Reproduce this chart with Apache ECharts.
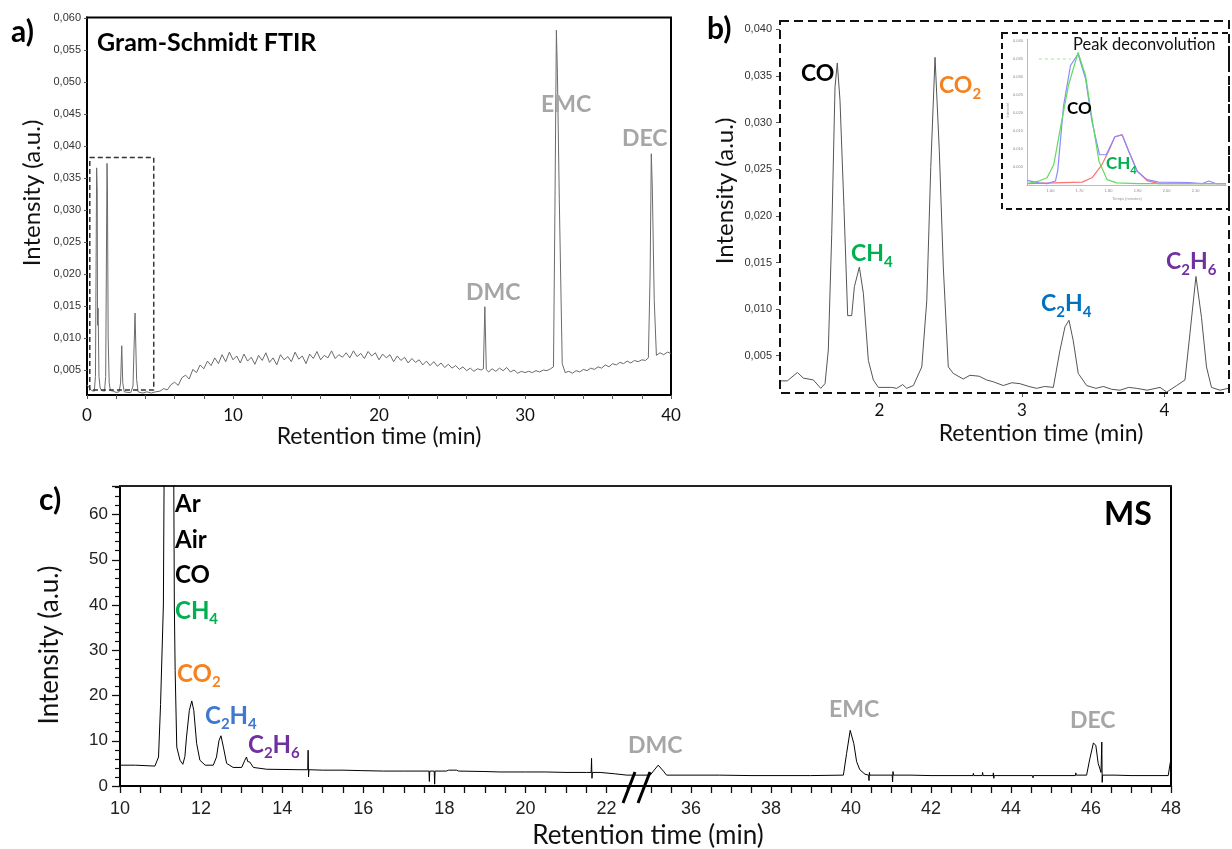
<!DOCTYPE html>
<html>
<head>
<meta charset="utf-8">
<script src="https://cdn.jsdelivr.net/npm/echarts@6/dist/echarts.min.js"></script>
<style>
html,body{margin:0;padding:0;background:#fff;}
#chart{width:1232px;height:849px;}
</style>
</head>
<body>
<div id="chart"></div>
<script>
// ---------- DATA ----------
// a) Gram-Schmidt FTIR trace [time (min), intensity]
const ftirData = [
[0.0,0.0027],[0.1,0.0025],[0.3,0.0018],[0.5,0.0017],[0.58,0.0040],[0.66,0.0366],[0.70,0.0330],[0.72,0.0120],[0.76,0.0147],[0.82,0.0040],[0.9,0.0022],[1.0,0.0018],[1.2,0.0017],[1.28,0.0040],[1.37,0.0373],[1.40,0.0335],[1.45,0.0100],[1.52,0.0030],[1.6,0.0018],[1.8,0.0017],[2.0,0.0015],[2.2,0.0016],[2.3,0.0030],[2.38,0.0088],[2.45,0.0030],[2.55,0.0016],[2.8,0.0015],[3.0,0.0015],[3.15,0.0025],[3.29,0.0139],[3.4,0.0035],[3.5,0.0016],[3.8,0.0014],[4.1,0.0016],[4.4,0.0014],[4.7,0.0016],
[5.00,0.0017],[5.25,0.0021],[5.50,0.0019],[5.75,0.0027],[6.00,0.0031],[6.25,0.0026],[6.50,0.0038],[6.75,0.0042],[7.00,0.0036],[7.25,0.0051],[7.50,0.0046],[7.75,0.0058],[8.00,0.0052],[8.25,0.0064],[8.50,0.0057],[8.75,0.0069],[9.00,0.0060],[9.25,0.0074],[9.50,0.0063],[9.75,0.0078],
[10.00,0.0066],[10.25,0.0072],[10.50,0.0061],[10.75,0.0075],[11.00,0.0064],[11.25,0.0070],[11.50,0.0059],[11.75,0.0073],[12.00,0.0065],[12.25,0.0077],[12.50,0.0062],[12.75,0.0069],[13.00,0.0058],[13.25,0.0074],[13.50,0.0066],[13.75,0.0071],[14.00,0.0063],[14.25,0.0078],[14.50,0.0067],[14.75,0.0072],
[15.00,0.0060],[15.25,0.0075],[15.50,0.0068],[15.75,0.0079],[16.00,0.0066],[16.25,0.0073],[16.50,0.0069],[16.75,0.0080],[17.00,0.0068],[17.25,0.0074],[17.50,0.0070],[17.75,0.0077],[18.00,0.0069],[18.25,0.0080],[18.50,0.0071],[18.75,0.0076],[19.00,0.0068],[19.25,0.0079],[19.50,0.0072],[19.75,0.0077],
[20.00,0.0066],[20.25,0.0075],[20.50,0.0069],[20.75,0.0074],[21.00,0.0063],[21.25,0.0072],[21.50,0.0065],[21.75,0.0070],[22.00,0.0061],[22.25,0.0068],[22.50,0.0062],[22.75,0.0066],[23.00,0.0058],[23.25,0.0064],[23.50,0.0057],[23.75,0.0063],[24.00,0.0056],[24.25,0.0061],[24.50,0.0054],[24.75,0.0059],
[25.00,0.0053],[25.25,0.0057],[25.50,0.0051],[25.75,0.0055],[26.00,0.0049],[26.25,0.0053],[26.50,0.0048],[26.75,0.0052],[27.00,0.0050],[27.15,0.0052],[27.25,0.0149],[27.35,0.0051],[27.50,0.0047],[27.75,0.0052],[28.00,0.0048],[28.25,0.0053],[28.50,0.0049],[28.75,0.0054],[29.00,0.0047],[29.25,0.0050],[29.50,0.0045],[29.75,0.0048],
[30.00,0.0046],[30.25,0.0048],[30.50,0.0046],[30.75,0.0049],[31.00,0.0047],[31.25,0.0050],[31.50,0.0049],[31.75,0.0052],[31.95,0.0055],[32.05,0.0300],[32.15,0.0581],[32.22,0.0514],[32.35,0.0316],[32.55,0.0060],[32.75,0.0046],
[33.00,0.0048],[33.25,0.0045],[33.50,0.0049],[33.75,0.0047],[34.00,0.0051],[34.25,0.0049],[34.50,0.0053],[34.75,0.0051],[35.00,0.0055],[35.25,0.0053],[35.50,0.0058],[35.75,0.0055],[36.00,0.0060],[36.25,0.0058],[36.50,0.0062],[36.75,0.0060],[37.00,0.0064],[37.25,0.0061],[37.50,0.0065],[37.75,0.0063],
[38.00,0.0066],[38.25,0.0065],[38.45,0.0069],[38.57,0.0200],[38.65,0.0388],[38.72,0.0336],[38.85,0.0160],[39.00,0.0073],[39.25,0.0077],[39.50,0.0074],[39.75,0.0078],[40.00,0.0076]
];
// dashed box marking the zoomed region in a)
const ftirZoomBox = [[0.19,0.0382],[4.57,0.0382],[4.57,0.0019],[0.19,0.0019],[0.19,0.0382]];

// b) zoom of first minutes
const gcData = [
[1.31,0.0023],[1.354,0.0023],[1.425,0.0032],[1.467,0.0026],[1.537,0.0024],[1.589,0.0015],[1.619,0.0020],[1.642,0.0056],[1.666,0.0180],[1.689,0.0338],[1.705,0.0364],[1.724,0.0324],[1.752,0.0209],[1.778,0.0093],[1.806,0.0093],[1.825,0.0124],[1.860,0.0145],[1.888,0.0117],[1.923,0.0045],[1.958,0.0024],[1.993,0.0016],
[2.087,0.0016],[2.122,0.0015],[2.164,0.0019],[2.192,0.0015],[2.239,0.0018],[2.298,0.0038],[2.333,0.0109],[2.361,0.0252],[2.391,0.0370],[2.421,0.0270],[2.449,0.0145],[2.484,0.0038],[2.519,0.0031],[2.589,0.0025],[2.636,0.0029],[2.70,0.0028],[2.753,0.0024],[2.80,0.0022],[2.870,0.0018],[2.93,0.0021],[2.987,0.0020],
[3.05,0.0017],[3.104,0.0015],[3.16,0.0017],[3.221,0.0016],[3.268,0.0056],[3.303,0.0081],[3.331,0.0088],[3.361,0.0066],[3.396,0.0031],[3.455,0.0018],[3.52,0.0015],[3.572,0.0017],[3.63,0.0014],[3.689,0.0013],[3.75,0.0016],[3.806,0.0015],[3.88,0.0013],[3.97,0.0016],
[4.017,0.0011],[4.087,0.0018],[4.145,0.0024],[4.18,0.0074],[4.222,0.0135],[4.261,0.0091],[4.296,0.0038],[4.331,0.0016],[4.39,0.0013],[4.45,0.0015]
];

// inset: peak deconvolution
const insetTotal = [[1.519,0.0013],[1.56,0.0006],[1.588,0.0004],[1.617,0.0011],[1.625,0.0040],[1.645,0.0220],[1.669,0.0332],[1.695,0.0364],[1.721,0.0295],[1.743,0.0176],[1.769,0.0084],[1.792,0.0084],[1.822,0.0134],[1.847,0.0139],[1.87,0.0093],[1.899,0.0038],[1.933,0.0015],[1.973,0.0008],[2.077,0.0007],[2.123,0.0004],[2.146,0.0011],[2.169,0.0004],[2.205,0.0004]];
const insetCO = [[1.519,0.0004],[1.56,0.0011],[1.588,0.0020],[1.611,0.0056],[1.634,0.0157],[1.662,0.0277],[1.695,0.0368],[1.721,0.0304],[1.743,0.0185],[1.767,0.0066],[1.795,0.0015],[1.828,0.0006],[1.9,0.0004],[2.205,0.0004]];
const insetCH4 = [[1.519,0.0004],[1.709,0.0008],[1.743,0.0020],[1.777,0.0056],[1.80,0.0093],[1.822,0.0134],[1.847,0.0140],[1.87,0.0093],[1.899,0.0038],[1.933,0.0012],[1.973,0.0004],[2.205,0.0004]];
const insetMarker = [[1.56,0.0350],[1.67,0.0350]];

// c) MS trace, before and after the axis break
const msLeft = [
[10.0,4.6],[10.38,4.6],[10.41,4.4],[10.86,4.4],[10.95,6.4],[11.0,18],[11.07,40],[11.12,120],[11.3,120],[11.34,40],[11.36,25.5],[11.4,8.6],[11.48,5.7],[11.55,4.8],[11.6,6.5],[11.64,10.8],[11.71,16.7],[11.77,18.8],[11.82,16.7],[11.89,9.4],[11.97,5.7],
[12.1,4.6],[12.3,4.6],[12.38,6.4],[12.44,10.0],[12.49,11.1],[12.55,8.6],[12.63,5.0],[12.79,4.1],[13.0,4.1],[13.08,5.7],[13.12,6.4],[13.15,5.4],[13.17,5.1],[13.2,5.3],[13.29,4.1],[13.62,3.7],[14.44,3.6],[14.63,3.6],[14.64,7.9],[14.65,2.0],[14.66,3.6],
[15.0,3.5],[15.5,3.5],[15.95,3.4],[15.96,3.1],[15.97,3.4],[16.5,3.3],[17.0,3.3],[17.62,3.3],[17.63,1.0],[17.64,3.3],[17.75,3.3],[17.76,0.4],[17.77,3.3],[18.05,3.3],[18.1,3.5],[18.3,3.5],[18.35,3.3],[19.0,3.2],[19.37,3.1],
[20.0,3.1],[20.5,3.1],[21.0,3.0],[21.5,3.0],[21.62,3.0],[21.63,6.1],[21.64,1.7],[21.65,3.0],[21.84,3.0],[22.2,2.7],[22.5,2.4],[22.8,2.4]
];
const msRight = [
[34.7,2.4],[34.98,2.4],[35.06,3.3],[35.18,4.6],[35.31,3.3],[35.39,2.4],[36.72,2.4],[37.5,2.3],[38.0,2.3],[38.99,2.3],[39.0,2.0],[39.01,2.3],
[39.81,2.4],[39.89,7.2],[39.98,12.3],[40.02,11.9],[40.07,9.4],[40.14,5.4],[40.22,3.6],[40.35,2.6],[40.44,2.4],[40.45,1.2],[40.46,3.0],[40.47,2.4],[40.9,2.4],[41.03,2.4],[41.04,0.9],[41.05,3.2],[41.06,2.4],[41.5,2.4],
[42.0,2.3],[43.05,2.3],[43.06,2.8],[43.07,2.3],[43.28,2.3],[43.29,3.0],[43.3,2.3],[43.55,2.3],[43.56,2.9],[43.57,1.7],[43.58,2.3],[44.54,2.3],[44.55,1.8],[44.56,2.3],[45.61,2.3],[45.62,2.9],[45.63,2.4],
[45.89,2.4],[45.97,6.0],[46.06,9.5],[46.12,9.0],[46.18,5.0],[46.25,3.0],[46.27,9.7],[46.28,0.8],[46.29,2.4],[46.6,2.4],[47.0,2.3],[47.5,2.3],[47.93,2.3],[48.0,6.1]
];

// tick values / labels
const ftirXTicks = [0, 10, 20, 30, 40];
const ftirXMinorTicks = [0,2,4,6,8,10,12,14,16,18,20,22,24,26,28,30,32,34,36,38,40];
const ftirYTicks = [0.005,0.010,0.015,0.020,0.025,0.030,0.035,0.040,0.045,0.050,0.055,0.060];
const gcXTicks = [2, 3, 4];
const gcYTicks = [0.005,0.010,0.015,0.020,0.025,0.030,0.035,0.040];
const insetXTicks = [1.6,1.7,1.8,1.9,2.0,2.1];
const insetYTicks = [0.005,0.010,0.015,0.020,0.025,0.030,0.035,0.040];
const msYLabels = [0,10,20,30,40,50,60];
const msXTicksLeft = [10,10.5,11,11.5,12,12.5,13,13.5,14,14.5,15,15.5,16,16.5,17,17.5,18,18.5,19,19.5,20,20.5,21,21.5,22,22.5];
const msXLabelsLeft = [10,12,14,16,18,20,22];
const msXTicksRight = [35,35.5,36,36.5,37,37.5,38,38.5,39,39.5,40,40.5,41,41.5,42,42.5,43,43.5,44,44.5,45,45.5,46,46.5,47,47.5,48];
const msXLabelsRight = [36,38,40,42,44,46,48];

// ---------- CHART ----------
const chart = echarts.init(document.getElementById('chart'), null, {renderer:'canvas'});
const comma = v => v.toFixed(3).replace('.', ',');
const LATO = 'Lato';
const ARIAL = 'Liberation Sans';

function txt(text, x, y, color, size, bold, extra) {
  return Object.assign({
    type: 'text', x: x, y: y, z: 50,
    style: { text: text, fill: color, font: (bold ? 'bold ' : '') + size + 'px ' + LATO, align: 'left', verticalAlign: 'middle' }
  }, extra || {});
}
function chem(parts, x, y, color, size) {
  // parts: array of [text, isSub]
  let s = '';
  parts.forEach(p => { s += '{' + (p[1] ? 's' : 'm') + '|' + p[0] + '}'; });
  const sub = Math.round(size * 0.64);
  return {
    type: 'text', x: x, y: y, z: 50,
    style: {
      text: s, align: 'left', verticalAlign: 'middle',
      rich: {
        m: { fill: color, fontSize: size, fontWeight: 'bold', fontFamily: LATO, lineHeight: size, height: size, verticalAlign: 'top' },
        s: { fill: color, fontSize: sub, fontWeight: 'bold', fontFamily: LATO, lineHeight: size, height: Math.round(size * 1.68), verticalAlign: 'top' }
      }
    }
  };
}
const GRAY = '#a6a6a6', ORANGE = '#f5821f', GREEN = '#00b050', BLUE_B = '#0070c0', BLUE_C = '#3f78d0', PURPLE = '#7030a0';

const option = {
  animation: false,
  backgroundColor: '#ffffff',
  grid: [
    { left: 87, top: 17.5, width: 584, height: 377.5, show: true, borderColor: '#000', borderWidth: 2 },
    { left: 780, top: 21, width: 449, height: 372, show: false },
    { left: 1027, top: 39.2, width: 199, height: 145.8, show: false },
    { left: 120, top: 486, width: 519, height: 300, show: false },
    { left: 639, top: 486, width: 532, height: 300, show: false }
  ],
  xAxis: [
    { gridIndex: 0, type: 'value', min: 0, max: 40,
      axisLine: { show: true, lineStyle: { color: '#000', width: 2 } },
      axisTick: { show: true, customValues: ftirXMinorTicks, length: 4, lineStyle: { color: '#555' } },
      axisLabel: { customValues: ftirXTicks, margin: 12, fontFamily: LATO, fontSize: 17, color: '#111' },
      splitLine: { show: false },
      name: 'Retention time (min)', nameLocation: 'middle', nameGap: 30,
      nameTextStyle: { fontFamily: LATO, fontSize: 23, color: '#111' } },
    { gridIndex: 1, type: 'value', min: 1.303, max: 4.454,
      axisLine: { show: false },
      axisTick: { show: true, customValues: gcXTicks, length: 4, lineStyle: { color: '#555' } },
      axisLabel: { customValues: gcXTicks, margin: 9, fontFamily: LATO, fontSize: 17, color: '#111' },
      splitLine: { show: false },
      name: 'Retention time (min)', nameLocation: 'middle', nameGap: 29,
      nameTextStyle: { fontFamily: LATO, fontSize: 23, color: '#111', padding: [0,0,0,73] } },
    { gridIndex: 2, type: 'value', min: 1.519, max: 2.205,
      axisLine: { show: true, lineStyle: { color: '#bbb', width: 1 } },
      axisTick: { show: false },
      axisLabel: { customValues: insetXTicks, formatter: v => v.toFixed(2), margin: 4, fontFamily: ARIAL, fontSize: 4, color: '#888' },
      splitLine: { show: false } },
    { gridIndex: 3, type: 'value', min: 10, max: 22.8,
      axisLine: { show: true, lineStyle: { color: '#000', width: 2 } },
      axisTick: { show: true, customValues: msXTicksLeft, length: 7, lineStyle: { color: '#111', width: 1.3 } },
      axisLabel: { customValues: msXLabelsLeft, margin: 14, fontFamily: ARIAL, fontSize: 18, color: '#222' },
      splitLine: { show: false } },
    { gridIndex: 4, type: 'value', min: 34.7, max: 48,
      axisLine: { show: true, lineStyle: { color: '#000', width: 2 } },
      axisTick: { show: true, customValues: msXTicksRight, length: 7, lineStyle: { color: '#111', width: 1.3 } },
      axisLabel: { customValues: msXLabelsRight, margin: 14, fontFamily: ARIAL, fontSize: 18, color: '#222' },
      splitLine: { show: false } },
    { gridIndex: 3, type: 'value', position: 'top', min: 10, max: 22.8,
      axisLine: { show: true, lineStyle: { color: '#222', width: 2 } },
      axisTick: { show: false }, axisLabel: { show: false }, splitLine: { show: false } },
    { gridIndex: 4, type: 'value', position: 'top', min: 34.7, max: 48,
      axisLine: { show: true, lineStyle: { color: '#222', width: 2 } },
      axisTick: { show: false }, axisLabel: { show: false }, splitLine: { show: false } }
  ],
  yAxis: [
    { gridIndex: 0, type: 'value', min: 0.0011, max: 0.0601,
      axisLine: { show: true, lineStyle: { color: '#000', width: 2 } },
      axisTick: { show: true, customValues: ftirYTicks, length: 3, lineStyle: { color: '#555' } },
      axisLabel: { customValues: ftirYTicks, formatter: comma, margin: 6, fontFamily: ARIAL, fontSize: 11, color: '#333' },
      splitLine: { show: false } },
    { gridIndex: 1, type: 'value', min: 0.001, max: 0.0409,
      axisLine: { show: false },
      axisTick: { show: true, customValues: gcYTicks, length: 4, lineStyle: { color: '#555' } },
      axisLabel: { customValues: gcYTicks, formatter: comma, margin: 8, fontFamily: ARIAL, fontSize: 11, color: '#333' },
      splitLine: { show: false } },
    { gridIndex: 2, type: 'value', min: 0, max: 0.0405,
      axisLine: { show: true, lineStyle: { color: '#bbb', width: 1 } },
      axisTick: { show: false },
      axisLabel: { customValues: insetYTicks, formatter: v => v.toFixed(3), margin: 4, fontFamily: ARIAL, fontSize: 4, color: '#888' },
      splitLine: { show: false } },
    { gridIndex: 3, type: 'value', min: 0, max: 66.3, interval: 10,
      axisLine: { show: true, lineStyle: { color: '#000', width: 2 } },
      axisTick: { show: true, length: 8, lineStyle: { color: '#111', width: 1.3 } },
      minorTick: { show: true, splitNumber: 5, length: 5, lineStyle: { color: '#111', width: 1.2 } },
      axisLabel: { customValues: msYLabels, margin: 12, fontFamily: ARIAL, fontSize: 17, color: '#222' },
      splitLine: { show: false }, minorSplitLine: { show: false } },
    { gridIndex: 4, type: 'value', position: 'right', min: 0, max: 66.3,
      axisLine: { show: true, lineStyle: { color: '#000', width: 2 } },
      axisTick: { show: false }, axisLabel: { show: false }, splitLine: { show: false } }
  ],
  series: [
    { type: 'line', xAxisIndex: 0, yAxisIndex: 0, data: ftirData, showSymbol: false, symbol: 'none',
      lineStyle: { color: '#6b6b6b', width: 1 } },
    { type: 'line', xAxisIndex: 0, yAxisIndex: 0, data: ftirZoomBox, showSymbol: false, symbol: 'none',
      lineStyle: { color: '#333', width: 1.5, type: [5, 3] } },
    { type: 'line', xAxisIndex: 1, yAxisIndex: 1, data: gcData, showSymbol: false, symbol: 'none',
      lineStyle: { color: '#555', width: 1 } },
    { type: 'line', xAxisIndex: 2, yAxisIndex: 2, data: insetCH4, showSymbol: false, symbol: 'none',
      lineStyle: { color: '#ff7070', width: 1.2 } },
    { type: 'line', xAxisIndex: 2, yAxisIndex: 2, data: insetTotal, showSymbol: false, symbol: 'none',
      lineStyle: { color: '#8a8aff', width: 1.2 } },
    { type: 'line', xAxisIndex: 2, yAxisIndex: 2, data: insetCO, showSymbol: false, symbol: 'none',
      lineStyle: { color: '#5fdc5f', width: 1.2 } },
    { type: 'line', xAxisIndex: 2, yAxisIndex: 2, data: insetMarker, showSymbol: false, symbol: 'none',
      lineStyle: { color: '#9be89b', width: 1, type: [3, 3] } },
    { type: 'line', xAxisIndex: 3, yAxisIndex: 3, data: msLeft, showSymbol: false, symbol: 'none', clip: true,
      lineStyle: { color: '#000', width: 1 } },
    { type: 'line', xAxisIndex: 4, yAxisIndex: 4, data: msRight, showSymbol: false, symbol: 'none', clip: true,
      lineStyle: { color: '#000', width: 1 } }
  ],
  graphic: [
    // frames
    { type: 'rect', z: 40, shape: { x: 780, y: 21, width: 449, height: 372 },
      style: { fill: 'none', stroke: '#111', lineWidth: 2, lineDash: [9, 5] } },
    { type: 'rect', z: 40, shape: { x: 1002, y: 33, width: 227, height: 176 },
      style: { fill: 'none', stroke: '#111', lineWidth: 2, lineDash: [6, 4] } },
    // axis break marks
    { type: 'line', z: 45, shape: { x1: 623, y1: 803, x2: 635, y2: 772 }, style: { stroke: '#000', lineWidth: 3 } },
    { type: 'line', z: 45, shape: { x1: 638, y1: 803, x2: 650, y2: 772 }, style: { stroke: '#000', lineWidth: 3 } },
    // panel letters and titles
    txt('a)', 11, 32, '#000', 30, true),
    txt('b)', 707, 29, '#000', 30, true),
    txt('c)', 39, 500, '#000', 30, true),
    txt('Gram-Schmidt FTIR', 97, 43, '#000', 25, true),
    txt('MS', 1104, 515, '#000', 32, true),
    txt('Peak deconvolution', 1073, 45, '#111', 16.5, false),
    // y titles
    txt('Intensity (a.u.)', 32, 193, '#111', 24, false, { rotation: Math.PI / 2, style: { text: 'Intensity (a.u.)', fill: '#111', font: '24px Lato', align: 'center', verticalAlign: 'middle' } }),
    txt('Intensity (a.u.)', 725, 191, '#111', 24, false, { rotation: Math.PI / 2, style: { text: 'Intensity (a.u.)', fill: '#111', font: '24px Lato', align: 'center', verticalAlign: 'middle' } }),
    txt('Intensity (a.u.)', 50, 645, '#111', 26, false, { rotation: Math.PI / 2, style: { text: 'Intensity (a.u.)', fill: '#111', font: '26px Lato', align: 'center', verticalAlign: 'middle' } }),
    txt('Retention time (min)', 648, 836, '#111', 26, false, { style: { text: 'Retention time (min)', fill: '#111', font: '26px Lato', align: 'center', verticalAlign: 'middle' } }),
    // inset tiny axis names
    txt('Intensité', 1008, 110, '#999', 4, false, { rotation: Math.PI / 2, style: { text: 'Intensité', fill: '#999', font: '4px Liberation Sans', align: 'center', verticalAlign: 'middle' } }),
    txt('Temps (minutes)', 1127, 199, '#999', 4, false, { style: { text: 'Temps (minutes)', fill: '#999', font: '4px Liberation Sans', align: 'center', verticalAlign: 'middle' } }),
    // a) peak labels
    txt('DMC', 466, 293, GRAY, 23, true),
    txt('EMC', 541, 105, GRAY, 23, true),
    txt('DEC', 622, 139, GRAY, 23, true),
    // b) peak labels
    txt('CO', 801, 74, '#000', 23, true),
    chem([['CO',0],['2',1]], 939, 86, ORANGE, 23),
    chem([['CH',0],['4',1]], 851, 254, GREEN, 23),
    chem([['C',0],['2',1],['H',0],['4',1]], 1041, 304, BLUE_B, 23),
    chem([['C',0],['2',1],['H',0],['6',1]], 1166, 262, PURPLE, 23),
    // inset labels
    txt('CO', 1067, 109, '#000', 17, true),
    chem([['CH',0],['4',1]], 1106, 164, GREEN, 17),
    // c) peak labels
    txt('Ar', 175, 504, '#000', 24, true),
    txt('Air', 175, 540, '#000', 24, true),
    txt('CO', 175, 575, '#000', 24, true),
    chem([['CH',0],['4',1]], 175, 611, GREEN, 24),
    chem([['CO',0],['2',1]], 177, 674, ORANGE, 24),
    chem([['C',0],['2',1],['H',0],['4',1]], 205, 716, BLUE_C, 24),
    chem([['C',0],['2',1],['H',0],['6',1]], 248, 745, PURPLE, 24),
    txt('DMC', 628, 746, GRAY, 23, true),
    txt('EMC', 829, 710, GRAY, 23, true),
    txt('DEC', 1070, 721, GRAY, 23, true)
  ]
};
chart.setOption(option);
</script>
</body>
</html>
